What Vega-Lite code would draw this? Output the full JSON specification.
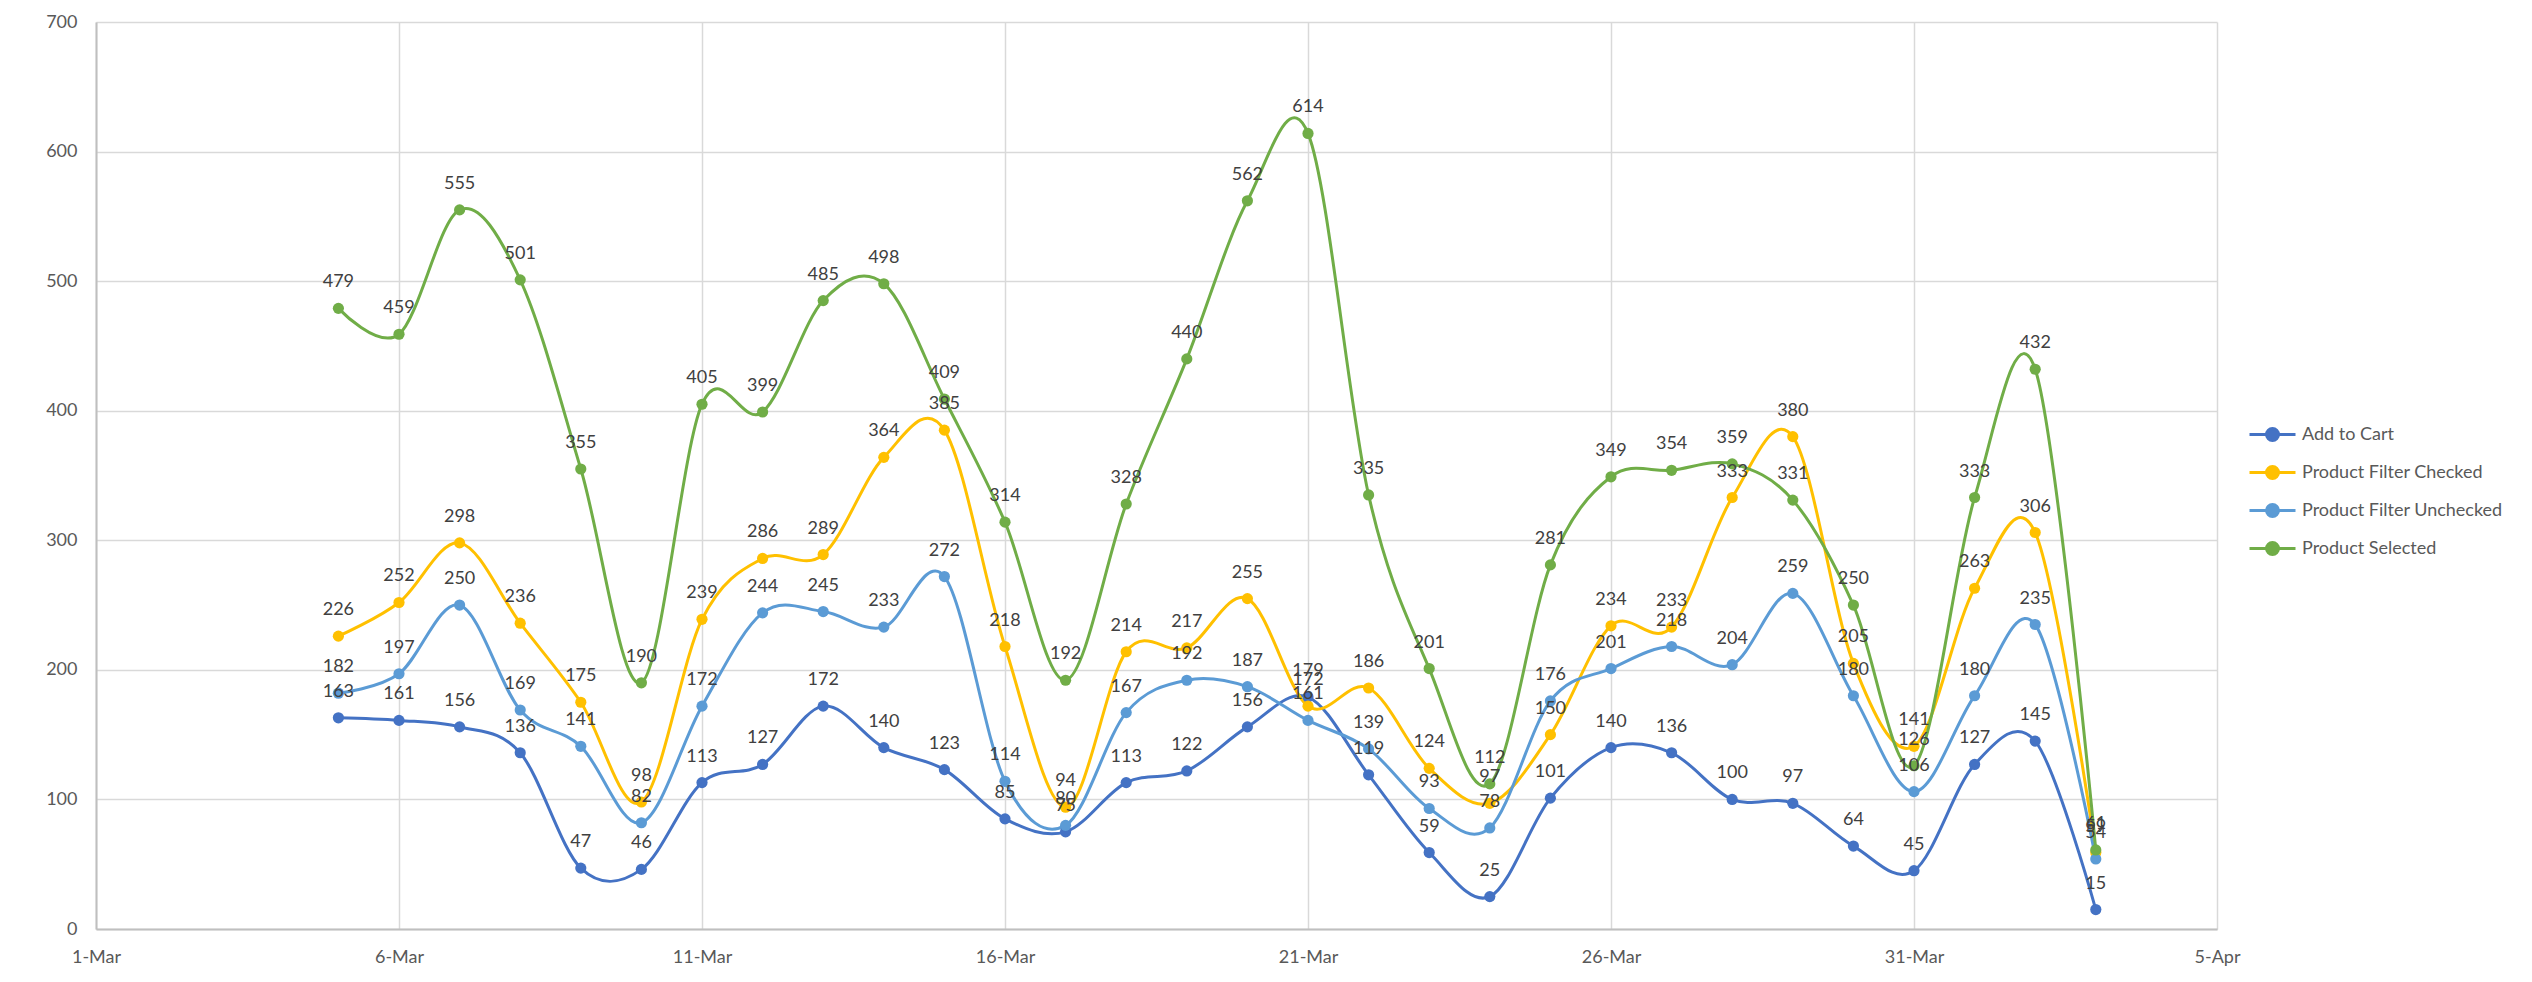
{
  "$schema": "https://vega.github.io/schema/vega-lite/v6.json",
  "width": 2121,
  "height": 907,
  "autosize": "none",
  "padding": {"left": 96, "top": 22, "right": 315, "bottom": 53},
  "background": "white",
  "config": {
    "font": "Lato",
    "view": {"stroke": null},
    "axis": {"labelFont": "Lato", "labelFontSize": 18, "labelColor": "#595959", "gridColor": "#d9d9d9", "gridWidth": 1.5, "domainColor": "#bfbfbf", "domainWidth": 2, "ticks": false, "title": null}
  },
  "data": {
    "values": [
      {"date": "2023/03/05", "series": "Add to Cart", "value": 163},
      {"date": "2023/03/06", "series": "Add to Cart", "value": 161},
      {"date": "2023/03/07", "series": "Add to Cart", "value": 156},
      {"date": "2023/03/08", "series": "Add to Cart", "value": 136},
      {"date": "2023/03/09", "series": "Add to Cart", "value": 47},
      {"date": "2023/03/10", "series": "Add to Cart", "value": 46},
      {"date": "2023/03/11", "series": "Add to Cart", "value": 113},
      {"date": "2023/03/12", "series": "Add to Cart", "value": 127},
      {"date": "2023/03/13", "series": "Add to Cart", "value": 172},
      {"date": "2023/03/14", "series": "Add to Cart", "value": 140},
      {"date": "2023/03/15", "series": "Add to Cart", "value": 123},
      {"date": "2023/03/16", "series": "Add to Cart", "value": 85},
      {"date": "2023/03/17", "series": "Add to Cart", "value": 75},
      {"date": "2023/03/18", "series": "Add to Cart", "value": 113},
      {"date": "2023/03/19", "series": "Add to Cart", "value": 122},
      {"date": "2023/03/20", "series": "Add to Cart", "value": 156},
      {"date": "2023/03/21", "series": "Add to Cart", "value": 179},
      {"date": "2023/03/22", "series": "Add to Cart", "value": 119},
      {"date": "2023/03/23", "series": "Add to Cart", "value": 59},
      {"date": "2023/03/24", "series": "Add to Cart", "value": 25},
      {"date": "2023/03/25", "series": "Add to Cart", "value": 101},
      {"date": "2023/03/26", "series": "Add to Cart", "value": 140},
      {"date": "2023/03/27", "series": "Add to Cart", "value": 136},
      {"date": "2023/03/28", "series": "Add to Cart", "value": 100},
      {"date": "2023/03/29", "series": "Add to Cart", "value": 97},
      {"date": "2023/03/30", "series": "Add to Cart", "value": 64},
      {"date": "2023/03/31", "series": "Add to Cart", "value": 45},
      {"date": "2023/04/01", "series": "Add to Cart", "value": 127},
      {"date": "2023/04/02", "series": "Add to Cart", "value": 145},
      {"date": "2023/04/03", "series": "Add to Cart", "value": 15},
      {"date": "2023/03/05", "series": "Product Filter Checked", "value": 226},
      {"date": "2023/03/06", "series": "Product Filter Checked", "value": 252},
      {"date": "2023/03/07", "series": "Product Filter Checked", "value": 298},
      {"date": "2023/03/08", "series": "Product Filter Checked", "value": 236},
      {"date": "2023/03/09", "series": "Product Filter Checked", "value": 175},
      {"date": "2023/03/10", "series": "Product Filter Checked", "value": 98},
      {"date": "2023/03/11", "series": "Product Filter Checked", "value": 239},
      {"date": "2023/03/12", "series": "Product Filter Checked", "value": 286},
      {"date": "2023/03/13", "series": "Product Filter Checked", "value": 289},
      {"date": "2023/03/14", "series": "Product Filter Checked", "value": 364},
      {"date": "2023/03/15", "series": "Product Filter Checked", "value": 385},
      {"date": "2023/03/16", "series": "Product Filter Checked", "value": 218},
      {"date": "2023/03/17", "series": "Product Filter Checked", "value": 94},
      {"date": "2023/03/18", "series": "Product Filter Checked", "value": 214},
      {"date": "2023/03/19", "series": "Product Filter Checked", "value": 217},
      {"date": "2023/03/20", "series": "Product Filter Checked", "value": 255},
      {"date": "2023/03/21", "series": "Product Filter Checked", "value": 172},
      {"date": "2023/03/22", "series": "Product Filter Checked", "value": 186},
      {"date": "2023/03/23", "series": "Product Filter Checked", "value": 124},
      {"date": "2023/03/24", "series": "Product Filter Checked", "value": 97},
      {"date": "2023/03/25", "series": "Product Filter Checked", "value": 150},
      {"date": "2023/03/26", "series": "Product Filter Checked", "value": 234},
      {"date": "2023/03/27", "series": "Product Filter Checked", "value": 233},
      {"date": "2023/03/28", "series": "Product Filter Checked", "value": 333},
      {"date": "2023/03/29", "series": "Product Filter Checked", "value": 380},
      {"date": "2023/03/30", "series": "Product Filter Checked", "value": 205},
      {"date": "2023/03/31", "series": "Product Filter Checked", "value": 141},
      {"date": "2023/04/01", "series": "Product Filter Checked", "value": 263},
      {"date": "2023/04/02", "series": "Product Filter Checked", "value": 306},
      {"date": "2023/04/03", "series": "Product Filter Checked", "value": 59},
      {"date": "2023/03/05", "series": "Product Filter Unchecked", "value": 182},
      {"date": "2023/03/06", "series": "Product Filter Unchecked", "value": 197},
      {"date": "2023/03/07", "series": "Product Filter Unchecked", "value": 250},
      {"date": "2023/03/08", "series": "Product Filter Unchecked", "value": 169},
      {"date": "2023/03/09", "series": "Product Filter Unchecked", "value": 141},
      {"date": "2023/03/10", "series": "Product Filter Unchecked", "value": 82},
      {"date": "2023/03/11", "series": "Product Filter Unchecked", "value": 172},
      {"date": "2023/03/12", "series": "Product Filter Unchecked", "value": 244},
      {"date": "2023/03/13", "series": "Product Filter Unchecked", "value": 245},
      {"date": "2023/03/14", "series": "Product Filter Unchecked", "value": 233},
      {"date": "2023/03/15", "series": "Product Filter Unchecked", "value": 272},
      {"date": "2023/03/16", "series": "Product Filter Unchecked", "value": 114},
      {"date": "2023/03/17", "series": "Product Filter Unchecked", "value": 80},
      {"date": "2023/03/18", "series": "Product Filter Unchecked", "value": 167},
      {"date": "2023/03/19", "series": "Product Filter Unchecked", "value": 192},
      {"date": "2023/03/20", "series": "Product Filter Unchecked", "value": 187},
      {"date": "2023/03/21", "series": "Product Filter Unchecked", "value": 161},
      {"date": "2023/03/22", "series": "Product Filter Unchecked", "value": 139},
      {"date": "2023/03/23", "series": "Product Filter Unchecked", "value": 93},
      {"date": "2023/03/24", "series": "Product Filter Unchecked", "value": 78},
      {"date": "2023/03/25", "series": "Product Filter Unchecked", "value": 176},
      {"date": "2023/03/26", "series": "Product Filter Unchecked", "value": 201},
      {"date": "2023/03/27", "series": "Product Filter Unchecked", "value": 218},
      {"date": "2023/03/28", "series": "Product Filter Unchecked", "value": 204},
      {"date": "2023/03/29", "series": "Product Filter Unchecked", "value": 259},
      {"date": "2023/03/30", "series": "Product Filter Unchecked", "value": 180},
      {"date": "2023/03/31", "series": "Product Filter Unchecked", "value": 106},
      {"date": "2023/04/01", "series": "Product Filter Unchecked", "value": 180},
      {"date": "2023/04/02", "series": "Product Filter Unchecked", "value": 235},
      {"date": "2023/04/03", "series": "Product Filter Unchecked", "value": 54},
      {"date": "2023/03/05", "series": "Product Selected", "value": 479},
      {"date": "2023/03/06", "series": "Product Selected", "value": 459},
      {"date": "2023/03/07", "series": "Product Selected", "value": 555},
      {"date": "2023/03/08", "series": "Product Selected", "value": 501},
      {"date": "2023/03/09", "series": "Product Selected", "value": 355},
      {"date": "2023/03/10", "series": "Product Selected", "value": 190},
      {"date": "2023/03/11", "series": "Product Selected", "value": 405},
      {"date": "2023/03/12", "series": "Product Selected", "value": 399},
      {"date": "2023/03/13", "series": "Product Selected", "value": 485},
      {"date": "2023/03/14", "series": "Product Selected", "value": 498},
      {"date": "2023/03/15", "series": "Product Selected", "value": 409},
      {"date": "2023/03/16", "series": "Product Selected", "value": 314},
      {"date": "2023/03/17", "series": "Product Selected", "value": 192},
      {"date": "2023/03/18", "series": "Product Selected", "value": 328},
      {"date": "2023/03/19", "series": "Product Selected", "value": 440},
      {"date": "2023/03/20", "series": "Product Selected", "value": 562},
      {"date": "2023/03/21", "series": "Product Selected", "value": 614},
      {"date": "2023/03/22", "series": "Product Selected", "value": 335},
      {"date": "2023/03/23", "series": "Product Selected", "value": 201},
      {"date": "2023/03/24", "series": "Product Selected", "value": 112},
      {"date": "2023/03/25", "series": "Product Selected", "value": 281},
      {"date": "2023/03/26", "series": "Product Selected", "value": 349},
      {"date": "2023/03/27", "series": "Product Selected", "value": 354},
      {"date": "2023/03/28", "series": "Product Selected", "value": 359},
      {"date": "2023/03/29", "series": "Product Selected", "value": 331},
      {"date": "2023/03/30", "series": "Product Selected", "value": 250},
      {"date": "2023/03/31", "series": "Product Selected", "value": 126},
      {"date": "2023/04/01", "series": "Product Selected", "value": 333},
      {"date": "2023/04/02", "series": "Product Selected", "value": 432},
      {"date": "2023/04/03", "series": "Product Selected", "value": 61}
    ]
  },
  "encoding": {
    "x": {
      "field": "date",
      "type": "temporal",
      "scale": {"domain": [{"year": 2023, "month": 3, "date": 1}, {"year": 2023, "month": 4, "date": 5}], "nice": false},
      "axis": {
        "format": "%-d-%b",
        "grid": true,
        "labelPadding": 19,
        "labelFlush": false,
        "labelOverlap": false,
        "values": [
          {"year": 2023, "month": 3, "date": 1},
          {"year": 2023, "month": 3, "date": 6},
          {"year": 2023, "month": 3, "date": 11},
          {"year": 2023, "month": 3, "date": 16},
          {"year": 2023, "month": 3, "date": 21},
          {"year": 2023, "month": 3, "date": 26},
          {"year": 2023, "month": 3, "date": 31},
          {"year": 2023, "month": 4, "date": 5}
        ]
      }
    },
    "y": {
      "field": "value",
      "type": "quantitative",
      "scale": {"domain": [0, 700], "nice": false},
      "axis": {"values": [0, 100, 200, 300, 400, 500, 600, 700], "grid": true, "labelPadding": 19}
    },
    "color": {
      "field": "series",
      "type": "nominal",
      "scale": {
        "domain": ["Add to Cart", "Product Filter Checked", "Product Filter Unchecked", "Product Selected"],
        "range": ["#4472C4", "#FFC000", "#5B9BD5", "#70AD47"]
      },
      "legend": {
        "title": null,
        "orient": "none",
        "legendX": 2152,
        "legendY": 388,
        "symbolType": "M-1,0L1,0M-0.26,0A0.26,0.26,0,1,0,0.26,0A0.26,0.26,0,1,0,-0.26,0Z",
        "symbolSize": 2116,
        "symbolStrokeWidth": 3,
        "labelFontSize": 18,
        "labelColor": "#595959",
        "labelOffset": 5,
        "labelLimit": 0,
        "rowPadding": 1
      }
    }
  },
  "layer": [
    {"mark": {"type": "line", "interpolate": "cardinal", "strokeWidth": 3}},
    {"mark": {"type": "point", "filled": true, "size": 125, "opacity": 1}},
    {
      "mark": {"type": "text", "dy": -21, "fontSize": 18, "baseline": "alphabetic", "color": "#404040"},
      "encoding": {"text": {"field": "value", "type": "quantitative"}, "color": {"value": "#404040"}}
    }
  ]
}
